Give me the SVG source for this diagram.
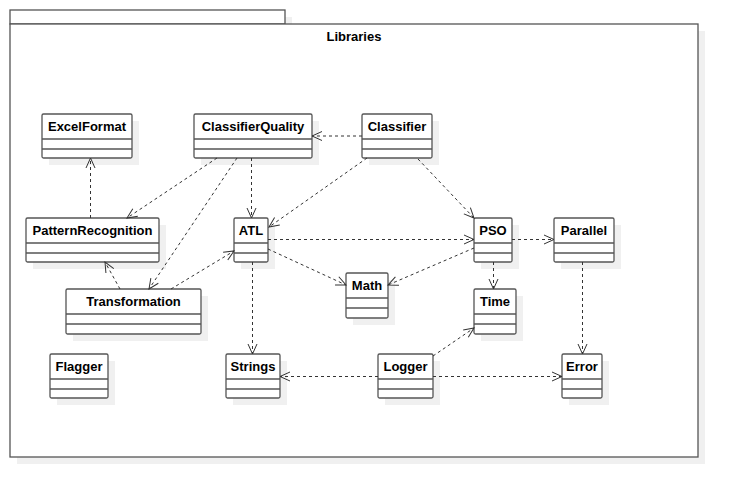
<svg xmlns="http://www.w3.org/2000/svg" width="738" height="498" viewBox="0 0 738 498">
<style>
.shadow{fill:#f0f0f0;stroke:none}
.box{fill:#fff;stroke:#555;stroke-width:1.3}
.div{stroke:#555;stroke-width:1.3}
.lbl{font-family:"Liberation Sans",Arial,sans-serif;font-size:13px;font-weight:bold;fill:#000;text-anchor:middle}
.dep{fill:none;stroke:#333;stroke-width:1;stroke-dasharray:3,3;marker-end:url(#open)}
</style>
<defs>
<marker id="open" markerUnits="userSpaceOnUse" markerWidth="12" markerHeight="12" refX="10" refY="4.5" orient="auto" overflow="visible">
<path d="M0,0 L10,4.5 L0,9" fill="none" stroke="#333" stroke-width="1"/>
</marker>
</defs>
<rect width="738" height="498" fill="#fff"/>
<g id="package">
<rect class="shadow" x="17" y="17" width="275" height="14"/>
<rect class="shadow" x="17" y="31" width="688" height="433"/>
<rect class="box" x="10" y="10" width="275" height="14"/>
<rect class="box" x="10" y="24" width="688" height="433"/>
<text class="lbl" x="354" y="41">Libraries</text>
</g>
<g id="ExcelFormat">
<rect class="shadow" x="49" y="121" width="90" height="44"/>
<rect class="box" x="42" y="114" width="90" height="44" rx="1.5"/>
<line class="div" x1="42" y1="139" x2="132" y2="139"/><line class="div" x1="42" y1="149" x2="132" y2="149"/>
<text class="lbl" x="87" y="131">ExcelFormat</text>
</g>
<g id="ClassifierQuality">
<rect class="shadow" x="201" y="121" width="118" height="44"/>
<rect class="box" x="194" y="114" width="118" height="44" rx="1.5"/>
<line class="div" x1="194" y1="139" x2="312" y2="139"/><line class="div" x1="194" y1="149" x2="312" y2="149"/>
<text class="lbl" x="253" y="131">ClassifierQuality</text>
</g>
<g id="Classifier">
<rect class="shadow" x="369" y="121" width="70" height="44"/>
<rect class="box" x="362" y="114" width="70" height="44" rx="1.5"/>
<line class="div" x1="362" y1="139" x2="432" y2="139"/><line class="div" x1="362" y1="149" x2="432" y2="149"/>
<text class="lbl" x="397" y="131">Classifier</text>
</g>
<g id="PatternRecognition">
<rect class="shadow" x="33" y="225" width="133" height="44"/>
<rect class="box" x="26" y="218" width="133" height="44" rx="1.5"/>
<line class="div" x1="26" y1="243" x2="159" y2="243"/><line class="div" x1="26" y1="253" x2="159" y2="253"/>
<text class="lbl" x="92.5" y="235">PatternRecognition</text>
</g>
<g id="ATL">
<rect class="shadow" x="241" y="225" width="34" height="44"/>
<rect class="box" x="234" y="218" width="34" height="44" rx="1.5"/>
<line class="div" x1="234" y1="243" x2="268" y2="243"/><line class="div" x1="234" y1="253" x2="268" y2="253"/>
<text class="lbl" x="251" y="235">ATL</text>
</g>
<g id="PSO">
<rect class="shadow" x="481" y="225" width="38" height="44"/>
<rect class="box" x="474" y="218" width="38" height="44" rx="1.5"/>
<line class="div" x1="474" y1="243" x2="512" y2="243"/><line class="div" x1="474" y1="253" x2="512" y2="253"/>
<text class="lbl" x="493" y="235">PSO</text>
</g>
<g id="Parallel">
<rect class="shadow" x="561" y="225" width="60" height="44"/>
<rect class="box" x="554" y="218" width="60" height="44" rx="1.5"/>
<line class="div" x1="554" y1="243" x2="614" y2="243"/><line class="div" x1="554" y1="253" x2="614" y2="253"/>
<text class="lbl" x="584" y="235">Parallel</text>
</g>
<g id="Math">
<rect class="shadow" x="353" y="280" width="42" height="45"/>
<rect class="box" x="346" y="273" width="42" height="45" rx="1.5"/>
<line class="div" x1="346" y1="298" x2="388" y2="298"/><line class="div" x1="346" y1="308" x2="388" y2="308"/>
<text class="lbl" x="367" y="290">Math</text>
</g>
<g id="Time">
<rect class="shadow" x="481" y="296" width="42" height="45"/>
<rect class="box" x="474" y="289" width="42" height="45" rx="1.5"/>
<line class="div" x1="474" y1="314" x2="516" y2="314"/><line class="div" x1="474" y1="324" x2="516" y2="324"/>
<text class="lbl" x="495" y="306">Time</text>
</g>
<g id="Transformation">
<rect class="shadow" x="73" y="296" width="135" height="45"/>
<rect class="box" x="66" y="289" width="135" height="45" rx="1.5"/>
<line class="div" x1="66" y1="314" x2="201" y2="314"/><line class="div" x1="66" y1="324" x2="201" y2="324"/>
<text class="lbl" x="133.5" y="306">Transformation</text>
</g>
<g id="Flagger">
<rect class="shadow" x="57" y="361" width="58" height="44"/>
<rect class="box" x="50" y="354" width="58" height="44" rx="1.5"/>
<line class="div" x1="50" y1="379" x2="108" y2="379"/><line class="div" x1="50" y1="389" x2="108" y2="389"/>
<text class="lbl" x="79" y="371">Flagger</text>
</g>
<g id="Strings">
<rect class="shadow" x="233" y="361" width="54" height="44"/>
<rect class="box" x="226" y="354" width="54" height="44" rx="1.5"/>
<line class="div" x1="226" y1="379" x2="280" y2="379"/><line class="div" x1="226" y1="389" x2="280" y2="389"/>
<text class="lbl" x="253" y="371">Strings</text>
</g>
<g id="Logger">
<rect class="shadow" x="385" y="361" width="55" height="44"/>
<rect class="box" x="378" y="354" width="55" height="44" rx="1.5"/>
<line class="div" x1="378" y1="379" x2="433" y2="379"/><line class="div" x1="378" y1="389" x2="433" y2="389"/>
<text class="lbl" x="405.5" y="371">Logger</text>
</g>
<g id="Error">
<rect class="shadow" x="569" y="361" width="40" height="44"/>
<rect class="box" x="562" y="354" width="40" height="44" rx="1.5"/>
<line class="div" x1="562" y1="379" x2="602" y2="379"/><line class="div" x1="562" y1="389" x2="602" y2="389"/>
<text class="lbl" x="582" y="371">Error</text>
</g>
<g id="connectors">
<line class="dep" x1="362" y1="136" x2="312" y2="136"/>
<line class="dep" x1="367" y1="158" x2="269" y2="227"/>
<line class="dep" x1="418" y1="159" x2="474" y2="218"/>
<line class="dep" x1="217" y1="158" x2="127" y2="218"/>
<line class="dep" x1="237" y1="158" x2="149" y2="289"/>
<line class="dep" x1="251.5" y1="158" x2="251.5" y2="218"/>
<line class="dep" x1="90.5" y1="218" x2="90.5" y2="158"/>
<line class="dep" x1="120" y1="289" x2="105" y2="262"/>
<line class="dep" x1="171" y1="289" x2="234" y2="251"/>
<line class="dep" x1="268" y1="239.5" x2="474" y2="239.5"/>
<line class="dep" x1="268" y1="249" x2="346" y2="285"/>
<line class="dep" x1="474" y1="248" x2="388" y2="285"/>
<line class="dep" x1="512" y1="239.5" x2="554" y2="239.5"/>
<line class="dep" x1="493.5" y1="262" x2="493.5" y2="289"/>
<line class="dep" x1="252.5" y1="262" x2="252.5" y2="354"/>
<line class="dep" x1="378" y1="376.5" x2="280" y2="376.5"/>
<line class="dep" x1="433" y1="356" x2="474" y2="328"/>
<line class="dep" x1="433" y1="376.5" x2="562" y2="376.5"/>
<line class="dep" x1="582.5" y1="262" x2="582.5" y2="354"/>
</g>
</svg>
